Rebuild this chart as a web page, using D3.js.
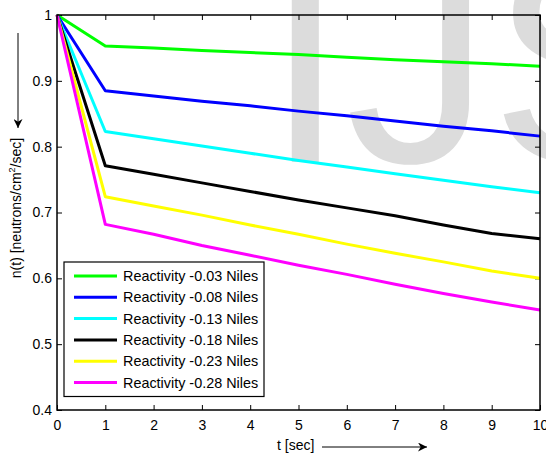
<!DOCTYPE html>
<html>
<head>
<meta charset="utf-8">
<script src="https://cdn.jsdelivr.net/npm/d3@7"></script>
<style>
  body { margin: 0; background: #fff; }
  svg { display: block; font-family: "Liberation Sans", Arial, sans-serif; }
</style>
</head>
<body>
<div id="chart"></div>
<script>
// time axis (sec)
const times = [0, 1, 2, 3, 4, 5, 6, 7, 8, 9, 10];

// n(t) for each reactivity
const green   = [1, 0.953, 0.950, 0.946, 0.943, 0.940, 0.936, 0.932, 0.929, 0.926, 0.922];
const blue    = [1, 0.885, 0.877, 0.869, 0.862, 0.854, 0.847, 0.839, 0.831, 0.824, 0.816];
const cyan    = [1, 0.823, 0.812, 0.801, 0.790, 0.779, 0.769, 0.759, 0.749, 0.739, 0.730];
const black   = [1, 0.771, 0.758, 0.745, 0.732, 0.719, 0.707, 0.695, 0.681, 0.668, 0.660];
const yellow  = [1, 0.724, 0.710, 0.696, 0.681, 0.667, 0.652, 0.638, 0.625, 0.611, 0.600];
const magenta = [1, 0.682, 0.667, 0.650, 0.635, 0.620, 0.606, 0.591, 0.577, 0.564, 0.552];

const labels = ["Reactivity -0.03 Niles", "Reactivity -0.08 Niles", "Reactivity -0.13 Niles",
                "Reactivity -0.18 Niles", "Reactivity -0.23 Niles", "Reactivity -0.28 Niles"];
const colors = ["#00ff00", "#0000ff", "#00ffff", "#000000", "#ffff00", "#ff00ff"];
const seriesValues = [green, blue, cyan, black, yellow, magenta];

const xTicks = [0, 1, 2, 3, 4, 5, 6, 7, 8, 9, 10];
const yTicks = [0.4, 0.5, 0.6, 0.7, 0.8, 0.9, 1];

const W = 546, H = 453;
const margin = {top: 15, right: 6, bottom: 43, left: 57};
const width = W - margin.left - margin.right;
const height = H - margin.top - margin.bottom;

const svg = d3.select("#chart").append("svg")
    .attr("width", W)
    .attr("height", H);

// background watermark
svg.append("text")
    .attr("x", 265)
    .attr("y", 162)
    .attr("font-size", 290)
    .attr("fill", "#dcdcdc")
    .text("IJS");

const defs = svg.append("defs");
defs.append("marker")
    .attr("id", "arr")
    .attr("viewBox", "0 0 10 10")
    .attr("refX", 10).attr("refY", 5)
    .attr("markerWidth", 14).attr("markerHeight", 9)
    .attr("markerUnits", "userSpaceOnUse")
    .attr("orient", "auto")
    .append("path")
    .attr("d", "M0,0 L10,5 L0,10 L3,5 Z")
    .attr("fill", "#000");

const g = svg.append("g")
    .attr("transform", `translate(${margin.left},${margin.top})`);

const x = d3.scaleLinear().domain([0, 10]).range([0, width]);
const y = d3.scaleLinear().domain([0.4, 1]).range([height, 0]);

const fmt = d => d === 1 ? "1" : d.toFixed(1);

// axes, ticks pointing inward like matlab
const xAxis = g.append("g")
    .attr("transform", `translate(0,${height})`)
    .call(d3.axisBottom(x).tickValues(xTicks).tickSize(-5).tickPadding(10).tickFormat(d3.format("d")));
const xTop = g.append("g")
    .call(d3.axisTop(x).tickValues(xTicks).tickSize(-5).tickFormat(""));
const yAxis = g.append("g")
    .call(d3.axisLeft(y).tickValues(yTicks).tickSize(-5).tickPadding(5).tickFormat(fmt));
const yRight = g.append("g")
    .attr("transform", `translate(${width},0)`)
    .call(d3.axisRight(y).tickValues(yTicks).tickSize(-5).tickFormat(""));

[xAxis, xTop, yAxis, yRight].forEach(a => {
    a.select(".domain").remove();
    a.selectAll(".tick line").attr("stroke", "#000").attr("stroke-width", 1);
    a.selectAll("text").attr("font-size", 14).attr("fill", "#000")
        .attr("font-family", "'Liberation Sans', Arial, sans-serif");
});

const line = d3.line()
    .x((d, i) => x(times[i]))
    .y(d => y(d));

g.selectAll(".series")
    .data(seriesValues)
    .join("path")
    .attr("class", "series")
    .attr("d", line)
    .attr("fill", "none")
    .attr("stroke", (d, i) => colors[i])
    .attr("stroke-width", 3)
    .attr("stroke-linejoin", "round");

// frame
g.append("rect")
    .attr("width", width)
    .attr("height", height)
    .attr("fill", "none")
    .attr("stroke", "#000")
    .attr("stroke-width", 1.5);

// legend
const leg = svg.append("g").attr("transform", "translate(64,262)");
leg.append("rect")
    .attr("width", 200)
    .attr("height", 134.5)
    .attr("fill", "#fff")
    .attr("stroke", "#000")
    .attr("stroke-width", 1.2);
const rows = leg.selectAll(".row")
    .data(labels)
    .join("g")
    .attr("transform", (d, i) => `translate(0,${14 + i * 21.3})`);
rows.append("line")
    .attr("x1", 10).attr("x2", 53)
    .attr("stroke", (d, i) => colors[i])
    .attr("stroke-width", 3);
rows.append("text")
    .attr("x", 59)
    .attr("dy", "0.36em")
    .attr("font-size", 14.4)
    .text(d => d);

// axis titles with arrows
svg.append("text")
    .attr("x", 277)
    .attr("y", 450)
    .attr("font-size", 14)
    .text("t [sec]");
svg.append("line")
    .attr("x1", 322).attr("x2", 427)
    .attr("y1", 447).attr("y2", 447)
    .attr("stroke", "#000").attr("stroke-width", 1)
    .attr("marker-end", "url(#arr)");

const yl = svg.append("text")
    .attr("transform", "translate(21,208) rotate(-90)")
    .attr("text-anchor", "middle")
    .attr("font-size", 14);
yl.append("tspan").text("n(t) [neutrons/cm");
yl.append("tspan").attr("font-size", 9).attr("dy", -6).text("2");
yl.append("tspan").attr("dy", 6).text("/sec]");

svg.append("line")
    .attr("x1", 18).attr("x2", 18)
    .attr("y1", 33).attr("y2", 128)
    .attr("stroke", "#000").attr("stroke-width", 1)
    .attr("marker-end", "url(#arr)");
</script>
</body>
</html>
